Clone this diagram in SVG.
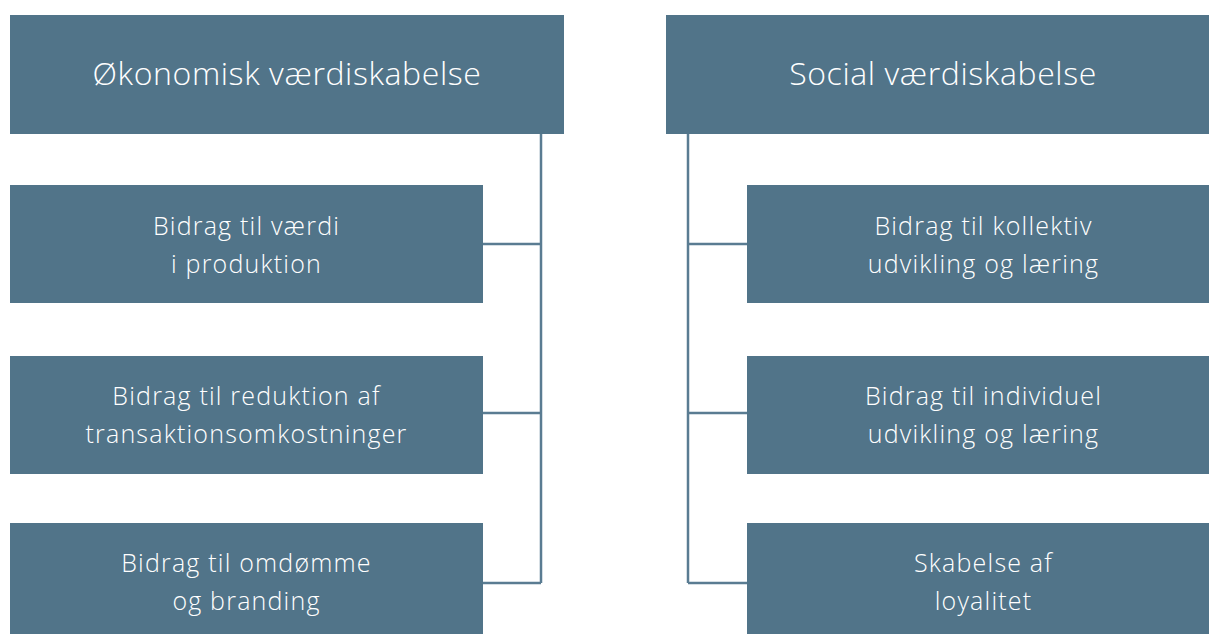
<svg xmlns="http://www.w3.org/2000/svg" width="1209" height="634" viewBox="0 0 1209 634">
<style>
.box{fill:#517489}
.conn{fill:none;stroke:#5a7c92;stroke-width:2.5}
.h{font-family:"Open Sans",Lato,"Liberation Sans",sans-serif;font-weight:300;font-size:32px;letter-spacing:0.6px;fill:#ffffff;text-anchor:middle}
.t{font-family:"Open Sans",Lato,"Liberation Sans",sans-serif;font-weight:300;font-size:25px;letter-spacing:1.2px;fill:#ffffff;text-anchor:middle}
</style>
<rect width="1209" height="634" fill="#ffffff"/>
<g id="connectors">
<path class="conn" d="M541 134V583M483 244H541M483 413H541M483 583H541"/>
<path class="conn" d="M688 134V583M688 244H747M688 413H747M688 583H747"/>
</g>
<g id="n-okonomisk"><rect class="box" x="10" y="15" width="554" height="119"/><text class="h" x="287" y="85">Økonomisk værdiskabelse</text></g>
<g id="n-social"><rect class="box" x="666" y="15" width="554" height="119"/><text class="h" x="943" y="85">Social værdiskabelse</text></g>
<g id="n-vaerdi"><rect class="box" x="10" y="185" width="473" height="118"/><text class="t" x="246.5" y="235">Bidrag til værdi</text><text class="t" x="246.5" y="273">i produktion</text></g>
<g id="n-reduktion"><rect class="box" x="10" y="356" width="473" height="118"/><text class="t" x="246.5" y="405">Bidrag til reduktion af</text><text class="t" x="246.5" y="443">transaktionsomkostninger</text></g>
<g id="n-omdomme"><rect class="box" x="10" y="523" width="473" height="111"/><text class="t" x="246.5" y="572">Bidrag til omdømme</text><text class="t" x="246.5" y="610">og branding</text></g>
<g id="n-kollektiv"><rect class="box" x="747" y="185" width="473" height="118"/><text class="t" x="983.5" y="235">Bidrag til kollektiv</text><text class="t" x="983.5" y="273">udvikling og læring</text></g>
<g id="n-individuel"><rect class="box" x="747" y="356" width="473" height="118"/><text class="t" x="983.5" y="405">Bidrag til individuel</text><text class="t" x="983.5" y="443">udvikling og læring</text></g>
<g id="n-loyalitet"><rect class="box" x="747" y="523" width="473" height="111"/><text class="t" x="983.5" y="572">Skabelse af</text><text class="t" x="983.5" y="610">loyalitet</text></g>
</svg>
